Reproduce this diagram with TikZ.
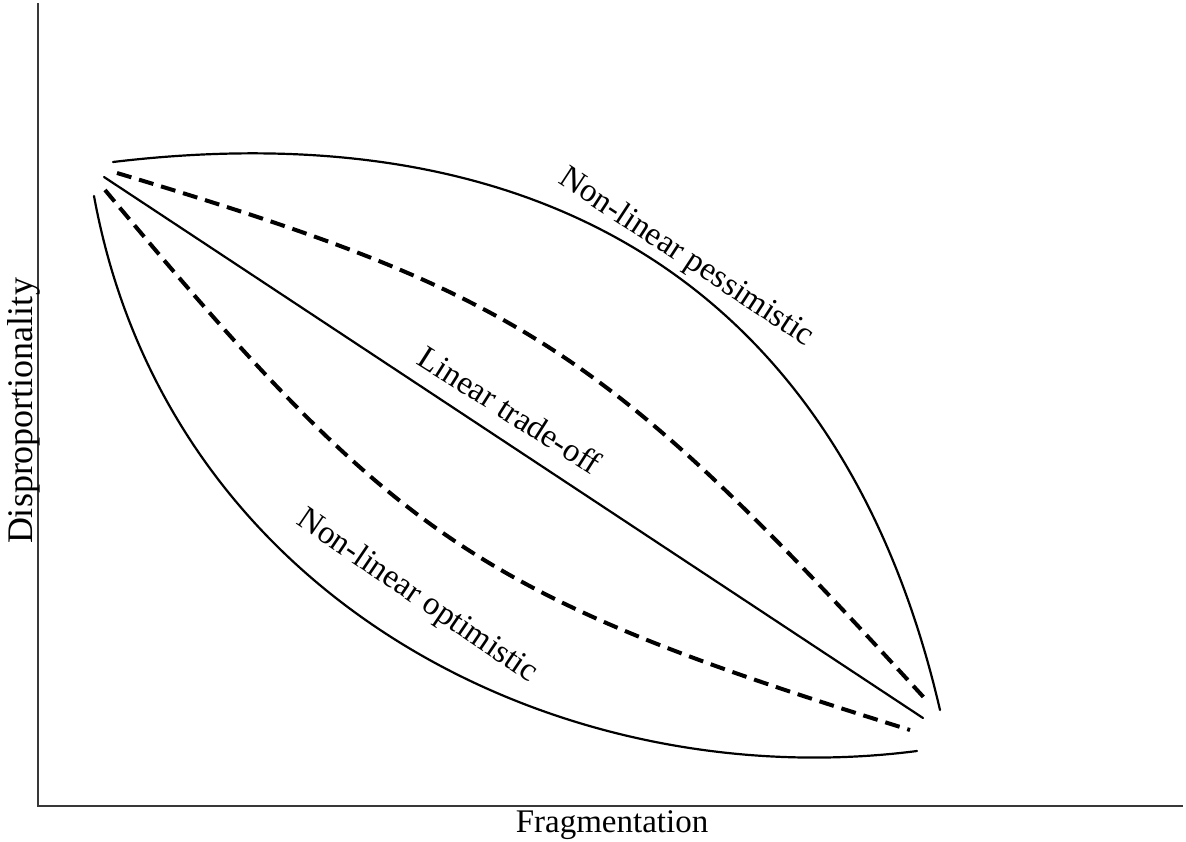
\documentclass[tikz,border=0pt]{standalone}
\usepackage{fontspec}
\setmainfont{Liberation Serif}
\begin{document}
\begin{tikzpicture}[x=1pt,y=-1pt,
  axisline/.style={line width=2pt,draw=black!78},
  solidcurve/.style={line width=2.2pt,line cap=round},
  dashcurve/.style={line width=4pt,dash pattern=on 15pt off 8pt},
  lab/.style={font=\fontsize{33}{40}\selectfont,inner sep=0pt}]
\useasboundingbox (0,0) rectangle (1186,841);
% axes
\coordinate (top) at (38,3);
\coordinate (origin) at (38,806);
\coordinate (right) at (1183,806);
\draw[axisline] (top) -- (origin) -- (right);
\node[lab,font=\fontsize{36}{42}\selectfont,anchor=base,rotate=90] (ylab) at (32,411) {Disproportionality};
\node[lab,anchor=base] (xlab) at (612,832) {Fragmentation};
% end points
\coordinate (ps) at (113,162);  \coordinate (pe) at (940,710);
\coordinate (uds) at (117,173); \coordinate (ude) at (928,702);
\coordinate (ls) at (104,177);  \coordinate (le) at (923,718);
\coordinate (lds) at (105,190); \coordinate (lde) at (910,730);
\coordinate (os) at (94,196);   \coordinate (oe) at (917,751);
% non-linear pessimistic
\draw[solidcurve] (ps) .. controls (556,109) and (845,300) .. (pe);
% upper dashed
\draw[dashcurve] (uds) .. controls (523,295) and (604,347) .. (ude);
% linear
\draw[solidcurve] (ls) -- (le);
% lower dashed
\draw[dashcurve] (lds) .. controls (398,542) and (479,596) .. (lde);
% non-linear optimistic
\draw[solidcurve] (os) .. controls (168,600) and (560,797) .. (oe);
% labels
\node[lab,rotate=-33.3] (pess) at (686,258) {Non-linear pessimistic};
\node[lab,rotate=-32.5] (lin) at (510,410) {Linear trade-off};
\node[lab,rotate=-34.2] (opt) at (417,597) {Non-linear optimistic};
\end{tikzpicture}
\end{document}
